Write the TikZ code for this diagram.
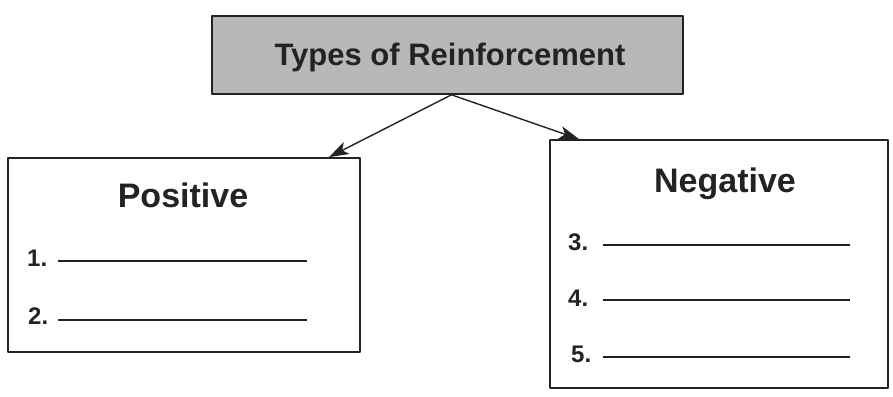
\documentclass[tikz,border=0pt]{standalone}
\usepackage{fontspec}
\setmainfont{Liberation Sans}
\usepackage{tikz}
\usetikzlibrary{arrows.meta, positioning}
\usepackage{xcolor}
\definecolor{headgray}{RGB}{184,184,184}
\definecolor{inkgray}{RGB}{35,35,35}
\tikzset{panelbox/.style={rectangle, draw=inkgray, line width=1.6pt, fill=white, inner sep=0pt},blankline/.style={inkgray, line width=1.2pt}}

\begin{document}
\begin{tikzpicture}[
        line join=bevel,
        titlebox/.style={shape=rectangle, fill=headgray, draw=inkgray, line width=1.6pt, inner sep=0pt},
        headtext/.style={text=inkgray, font=\fontsize{34}{38}\selectfont\bfseries, inner sep=0pt},
        numtext/.style={text=inkgray, font=\fontsize{24}{28}\selectfont\bfseries, inner sep=0pt},
        linkarrow/.style={-{Stealth[length=20pt, width=13pt, inset=5pt]}, inkgray, line width=1.4pt}
    ]
        % Frame
        \useasboundingbox (0pt, 0pt) rectangle (893pt, -396pt);
        % Title box
        \node[titlebox, minimum width=471pt, minimum height=78pt] (types) at (447.5pt, -55pt) {};
        \node[text=inkgray, font=\fontsize{31}{35}\selectfont\bfseries, anchor=base, inner sep=0pt] (typestext) at (450pt, -65pt) {Types of Reinforcement};
        % Panels
        \node[panelbox, minimum width=352pt, minimum height=194pt] (positive) at (184pt, -255pt) {};
        \node[panelbox, minimum width=338pt, minimum height=248pt] (negative) at (719pt, -264pt) {};
        \node[headtext, anchor=base] (poshead) at (183pt, -207pt) {Positive};
        \node[headtext, anchor=base] (neghead) at (725pt, -192pt) {Negative};
        % Arrows
        \draw[linkarrow] ([xshift=4pt]types.south) -- ([xshift=-32pt]positive.north east);
        \draw[linkarrow] ([xshift=4pt]types.south) -- ([xshift=30pt]negative.north west);
        % Blanks
        \foreach \n/\x/\y/\l in {
            1/27pt/-266pt/-261pt,
            2/28pt/-324pt/-320pt} {
            \node[numtext, anchor=base west] (num\n) at (\x, \y) {\n.};
            \draw[blankline] (58pt, \l) -- (307pt, \l);
        }
        \foreach \n/\x/\y/\l in {
            3/568pt/-250pt/-245pt,
            4/568pt/-306pt/-300pt,
            5/571pt/-362pt/-357pt} {
            \node[numtext, anchor=base west] (num\n) at (\x, \y) {\n.};
            \draw[blankline] (603pt, \l) -- (850pt, \l);
        }
    \end{tikzpicture}
\end{document}
